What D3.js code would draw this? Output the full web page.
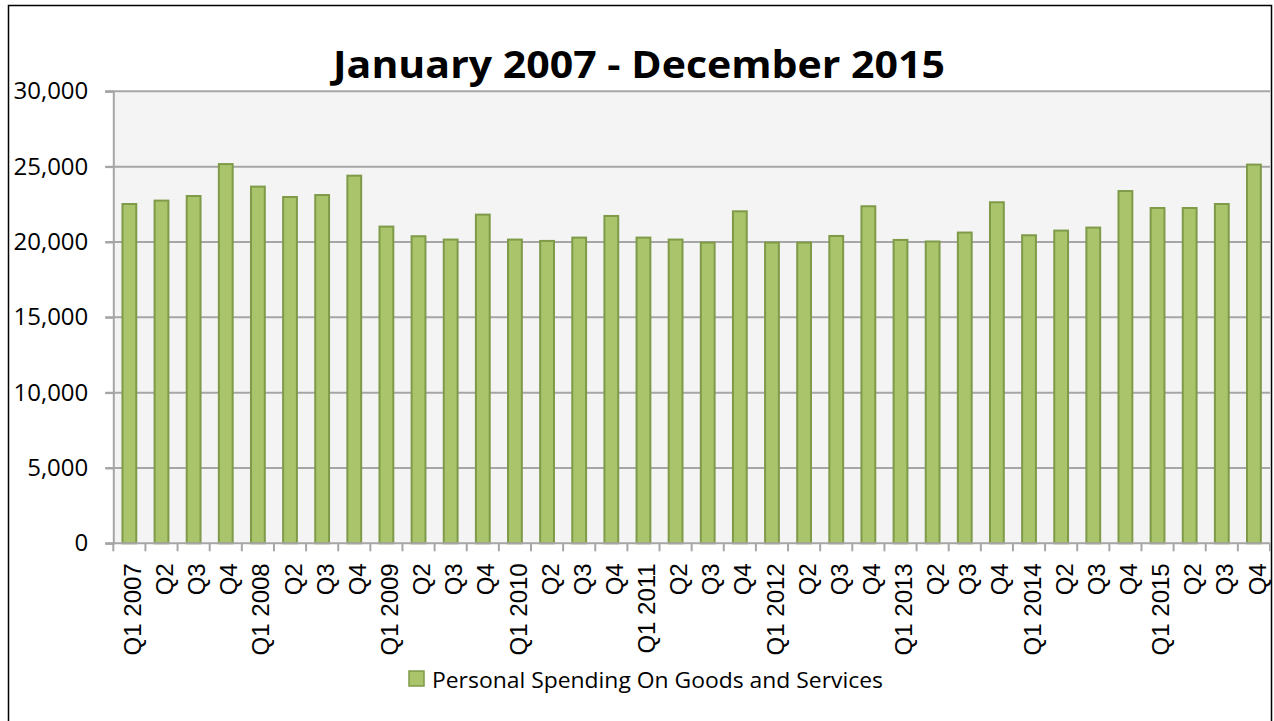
<!DOCTYPE html>
<html>
<head>
<meta charset="utf-8">
<script src="https://cdn.jsdelivr.net/npm/d3@7"></script>
<style>
  html, body { margin: 0; padding: 0; background: #fff; }
  svg { display: block; }
</style>
</head>
<body>
<svg id="chart" width="1274" height="721"></svg>
<script>
const title = "January 2007 - December 2015";
const seriesName = "Personal Spending On Goods and Services";
const categories = [
  "Q1 2007","Q2","Q3","Q4",
  "Q1 2008","Q2","Q3","Q4",
  "Q1 2009","Q2","Q3","Q4",
  "Q1 2010","Q2","Q3","Q4",
  "Q1 2011","Q2","Q3","Q4",
  "Q1 2012","Q2","Q3","Q4",
  "Q1 2013","Q2","Q3","Q4",
  "Q1 2014","Q2","Q3","Q4",
  "Q1 2015","Q2","Q3","Q4"
];
const values = [
  22520, 22745, 23050, 25170,
  23675, 22985, 23115, 24400,
  21020, 20380, 20160, 21815,
  20160, 20070, 20290, 21725,
  20290, 20160, 19960, 22035,
  19960, 19960, 20400, 22370,
  20135, 20030, 20625, 22635,
  20445, 20755, 20955, 23380,
  22255, 22255, 22520, 25135
];
const yTicks = [0, 5000, 10000, 15000, 20000, 25000, 30000];

const svg = d3.select("#chart");
const m = { left: 113.3, right: 1270, top: 91.3, bottom: 543.3 };

// outer border
svg.append("rect").attr("x", 8.5).attr("y", 5.5).attr("width", 1263).attr("height", 720)
  .attr("fill", "#fff").attr("stroke", "#000").attr("stroke-width", 1.5);

const x = d3.scaleBand().domain(d3.range(categories.length)).range([m.left, m.right]).paddingInner(0.57).paddingOuter(0.285);
const y = d3.scaleLinear().domain([0, 30000]).range([m.bottom, m.top]);

// plot background
svg.append("rect").attr("x", m.left).attr("y", m.top).attr("width", m.right - m.left).attr("height", m.bottom - m.top)
  .attr("fill", "#f4f4f4");

// gridlines
svg.append("g").selectAll("line").data(yTicks.filter(d => d > 0)).join("line")
  .attr("x1", m.left - 8).attr("x2", m.right)
  .attr("y1", d => y(d)).attr("y2", d => y(d))
  .attr("stroke", "#a6a6a6").attr("stroke-width", 2);

// y axis
const yAxis = d3.axisLeft(y).tickValues(yTicks).tickSize(8).tickPadding(17)
  .tickFormat(d3.format(","));
const gy = svg.append("g").attr("transform", `translate(${m.left},0)`).call(yAxis);
gy.select(".domain").attr("stroke", "#a6a6a6").attr("stroke-width", 2);
gy.selectAll(".tick line").attr("stroke", "#a6a6a6").attr("stroke-width", 2);
gy.selectAll(".tick text").attr("font-family", "'Open Sans', sans-serif").attr("font-size", 24).attr("fill", "#000");

// bars
svg.append("g").selectAll("rect").data(values).join("rect")
  .attr("x", (d, i) => x(i))
  .attr("width", x.bandwidth())
  .attr("y", d => y(d))
  .attr("height", d => y(0) - y(d))
  .attr("fill", "#aac46c")
  .attr("stroke", "#7f9a48")
  .attr("stroke-width", 2);

// x axis
const xPos = d3.scaleLinear().domain([0, categories.length]).range([m.left, m.right]);
const gx = svg.append("g");
gx.append("line").attr("x1", m.left - 8).attr("x2", m.right).attr("y1", m.bottom).attr("y2", m.bottom)
  .attr("stroke", "#a6a6a6").attr("stroke-width", 2);
gx.selectAll("line.tk").data(d3.range(categories.length + 1)).join("line").attr("class", "tk")
  .attr("x1", d => xPos(d)).attr("x2", d => xPos(d))
  .attr("y1", m.bottom).attr("y2", m.bottom + 8)
  .attr("stroke", "#a6a6a6").attr("stroke-width", 2);
gx.selectAll("text").data(categories).join("text")
  .attr("transform", (d, i) => `translate(${x(i) + x.bandwidth() / 2 + 11.6},${m.bottom + 20}) rotate(-90)`)
  .attr("text-anchor", "end")
  .attr("font-family", "'Liberation Sans', Arial, sans-serif")
  .attr("font-size", 24)
  .attr("fill", "#000")
  .text(d => d);

// title
svg.append("text").attr("x", 639).attr("y", 78).attr("text-anchor", "middle")
  .attr("font-family", "'Open Sans', sans-serif").attr("font-weight", "bold").attr("font-size", 37)
  .attr("textLength", 612).attr("lengthAdjust", "spacingAndGlyphs")
  .attr("fill", "#000").text(title);

// legend
const lg = svg.append("g");
lg.append("rect").attr("x", 409).attr("y", 671).attr("width", 15).attr("height", 15)
  .attr("fill", "#aac46c").attr("stroke", "#7f9a48").attr("stroke-width", 1.5);
lg.append("text").attr("x", 432).attr("y", 688)
  .attr("font-family", "'Open Sans', sans-serif").attr("font-size", 22.5).attr("fill", "#000")
  .attr("textLength", 451).attr("lengthAdjust", "spacingAndGlyphs")
  .text(seriesName);
</script>
</body>
</html>
